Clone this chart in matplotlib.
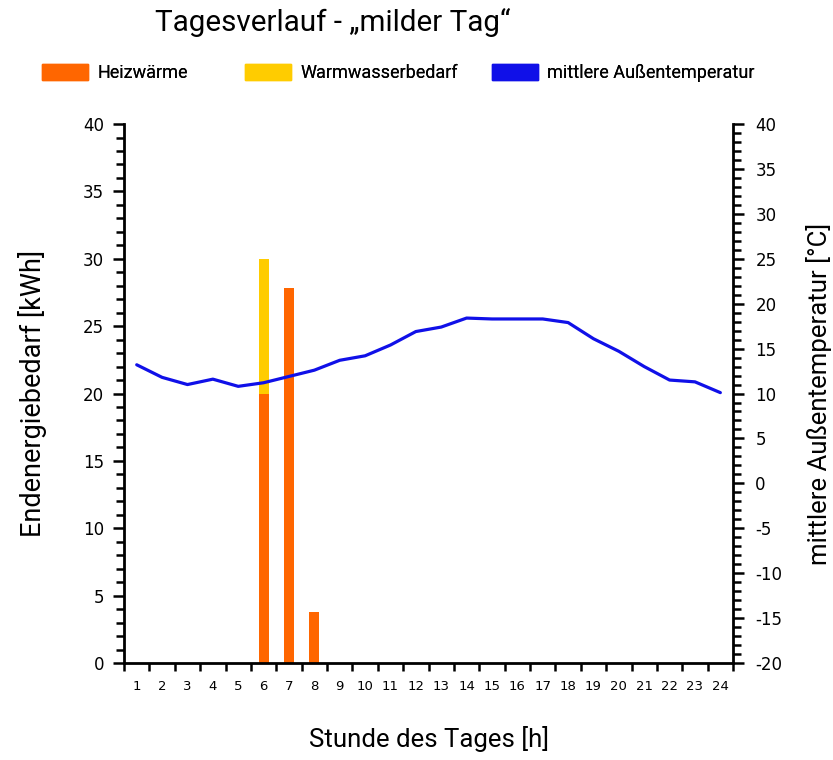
import matplotlib
matplotlib.use("Agg")
import matplotlib.pyplot as plt
from matplotlib.patches import Patch
from matplotlib.ticker import MultipleLocator, FixedLocator, NullFormatter

# hourly values for a mild day
hours = list(range(1, 25))
heizwaerme = [0, 0, 0, 0, 0, 20, 27.8, 3.8, 0, 0, 0, 0,
              0, 0, 0, 0, 0, 0, 0, 0, 0, 0, 0, 0]
warmwasser = [0, 0, 0, 0, 0, 10, 0, 0, 0, 0, 0, 0,
              0, 0, 0, 0, 0, 0, 0, 0, 0, 0, 0, 0]
temperatur = [13.2, 11.8, 11.0, 11.6, 10.8, 11.2, 11.9, 12.6, 13.7, 14.2, 15.4, 16.9,
              17.4, 18.4, 18.3, 18.3, 18.3, 17.9, 16.1, 14.7, 13.0, 11.5, 11.3, 10.1]
legend_labels = ["Heizwärme", "Warmwasserbedarf", "mittlere Außentemperatur"]

c_heiz = "#ff6600"
c_ww = "#ffcc00"
c_temp = "#1010e8"
label_font = "Roboto"
plt.rcParams["axes.unicode_minus"] = False

fig = plt.figure(figsize=(8.33, 7.6), dpi=100)
ax = fig.add_axes([0.1489, 0.1276, 0.88 - 0.1489, 0.8368 - 0.1276])
ax2 = ax.twinx()

ax.bar(hours, heizwaerme, width=0.4, color=c_heiz, zorder=2)
ax.bar(hours, warmwasser, width=0.4, bottom=heizwaerme, color=c_ww, zorder=2)
ax2.plot(hours, temperatur, color=c_temp, lw=2.3, solid_capstyle="round")

ax.set_xlim(0.5, 24.5)
ax.set_ylim(0, 40)
ax2.set_ylim(-20, 40)

# x: ticks on the hour boundaries, labels in the middle
ax.xaxis.set_major_locator(FixedLocator([h - 0.5 for h in hours] + [24.5]))
ax.xaxis.set_major_formatter(NullFormatter())
ax.xaxis.set_minor_locator(FixedLocator(hours))
ax.set_xticklabels([str(h) for h in hours], minor=True)
ax.tick_params(axis="x", which="major", direction="out", length=6, width=1.8)
ax.tick_params(axis="x", which="minor", length=0, pad=12, labelsize=9.5)

ax.yaxis.set_major_locator(MultipleLocator(5))
ax.yaxis.set_minor_locator(MultipleLocator(1))
ax.tick_params(axis="y", which="major", direction="out", length=8, width=1.8, pad=6.5, labelsize=12)
ax.tick_params(axis="y", which="minor", direction="out", length=6, width=1.8)

ax2.yaxis.set_major_locator(MultipleLocator(5))
ax2.yaxis.set_minor_locator(MultipleLocator(1))
ax2.tick_params(axis="y", which="major", direction="out", length=8, width=1.8, pad=8, labelsize=12)
ax2.tick_params(axis="y", which="minor", direction="out", length=6, width=1.8)

for a in (ax, ax2):
    a.spines["top"].set_visible(False)
    for s in ("left", "right", "bottom"):
        a.spines[s].set_linewidth(2)
ax.spines["right"].set_visible(False)
ax2.spines["left"].set_visible(False)
ax2.spines["bottom"].set_visible(False)

ax.set_ylabel("Endenergiebedarf [kWh]", fontsize=19.5, family=label_font, labelpad=26)
ax2.set_ylabel("mittlere Außentemperatur [°C]", fontsize=18.5, family=label_font, labelpad=17)
ax.set_xlabel("Stunde des Tages [h]", fontsize=18.5, family=label_font, labelpad=24)

fig.text(155 / 833, 1 - 22 / 760, "Tagesverlauf - „milder Tag“", fontsize=21.3,
         family=label_font, ha="left", va="center")

# one legend entry per slot, the slots are not evenly spaced
colors = [c_heiz, c_ww, c_temp]
slots = [42, 245, 492]
for label, color, x in zip(legend_labels, colors, slots):
    leg = fig.legend(handles=[Patch(color=color, label=label)], loc="center left",
                     bbox_to_anchor=(x / 833, 1 - 73 / 760), frameon=False,
                     prop={"family": label_font, "size": 13},
                     handlelength=2.55, handleheight=1.0, handletextpad=0.5,
                     borderpad=0, borderaxespad=0)
    fig.add_artist(leg)

fig.savefig("out.png", dpi=100)
